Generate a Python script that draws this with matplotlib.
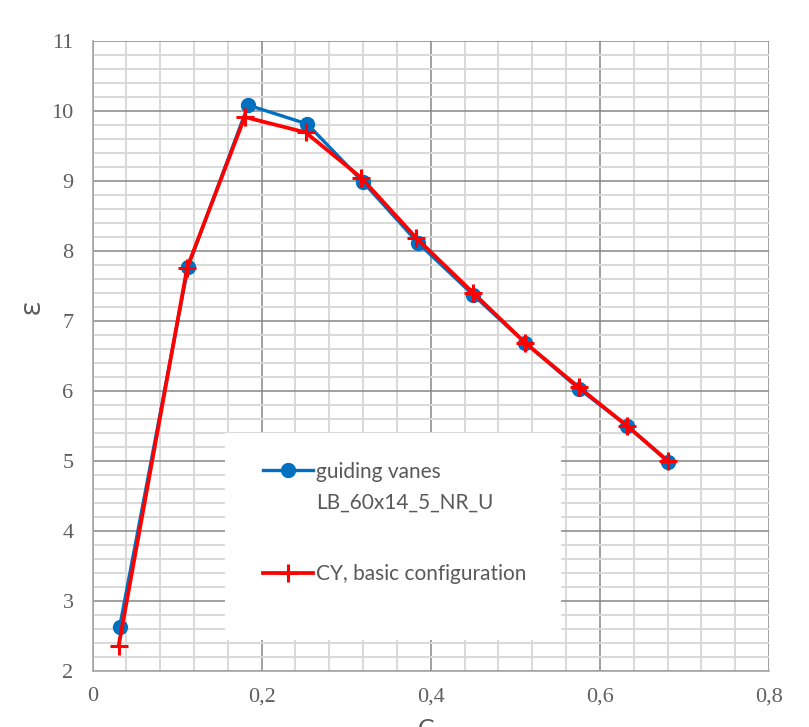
import matplotlib
matplotlib.use("Agg")
import matplotlib.pyplot as plt
from matplotlib.ticker import MultipleLocator, FixedLocator
from matplotlib.patches import Rectangle

# data
cy_vanes = [0.032, 0.113, 0.184, 0.254, 0.320, 0.385, 0.450, 0.512, 0.575, 0.632, 0.681]
eps_vanes = [2.62, 7.77, 10.08, 9.81, 8.98, 8.11, 7.37, 6.68, 6.03, 5.50, 4.98]
cy_basic = [0.031, 0.112, 0.180, 0.252, 0.318, 0.383, 0.450, 0.512, 0.575, 0.632, 0.681]
eps_basic = [2.36, 7.76, 9.91, 9.69, 9.04, 8.18, 7.40, 6.68, 6.05, 5.50, 4.99]
label_vanes = "guiding vanes\nLB_60x14_5_NR_U"
label_basic = "CY, basic configuration"
x_ticks = [0, 0.2, 0.4, 0.6, 0.8]
x_ticklabels = ["0", "0,2", "0,4", "0,6", "0,8"]
y_ticks = [2, 3, 4, 5, 6, 7, 8, 9, 10, 11]

fig = plt.figure(figsize=(8.09, 7.27), dpi=100)
ax = fig.add_axes([92.5 / 809, 1 - 670.7 / 727, 676.5 / 809, 630 / 727])

ax.set_xlim(0, 0.8)
ax.set_ylim(2, 11)
ax.xaxis.set_major_locator(FixedLocator(x_ticks))
ax.set_xticklabels(x_ticklabels)
ax.yaxis.set_major_locator(FixedLocator(y_ticks))
ax.set_yticklabels([str(v) for v in y_ticks])
ax.xaxis.set_minor_locator(MultipleLocator(0.04))
ax.yaxis.set_minor_locator(MultipleLocator(0.2))

ax.grid(which="minor", color="#d9d9d9", linewidth=1.4, zorder=0)
ax.grid(which="major", color="#868686", linewidth=1.1, zorder=0.5)
ax.set_axisbelow(True)
ax.tick_params(which="both", length=0)
ax.tick_params(axis="x", pad=12)
ax.tick_params(axis="y", pad=13.7)
for lab in ax.get_xticklabels() + ax.get_yticklabels():
    lab.set_fontfamily("Liberation Serif")
    lab.set_fontsize(16)
    lab.set_color("#5f5f5f")
for s in ["top", "right"]:
    ax.spines[s].set_visible(False)
for s in ["left", "bottom"]:
    ax.spines[s].set_color("#a6a6a6")
    ax.spines[s].set_linewidth(1.2)

ax.plot(cy_vanes, eps_vanes, color="#0070c0", linewidth=2.4, marker="o",
        markersize=10, label=label_vanes, zorder=3)
ax.plot(cy_basic, eps_basic, color="#ff0000", linewidth=2.7, marker="+",
        markersize=13, markeredgewidth=2.2, label=label_basic, zorder=4)

# white legend area
ax.add_patch(Rectangle(((225 - 92.5) / 676.5, (670.7 - 640) / 630),
                       (561 - 225) / 676.5, (640 - 433) / 630,
                       transform=ax.transAxes, facecolor="white",
                       edgecolor="none", zorder=2))
leg = ax.legend(loc="upper left", bbox_to_anchor=((263 - 92.5) / 676.5, (670.7 - 462) / 630),
                frameon=False, prop={"family": "Lato", "size": 15},
                handlelength=2.4, handleheight=1.0, handletextpad=0.15,
                labelspacing=2.5, borderpad=0, borderaxespad=0)
leg.set_zorder(5)
for t in leg.get_texts():
    t.set_color("#595959")
    t.set_linespacing(1.65)
# align each handle with the first line of its label
for col in leg._legend_handle_box.get_children():
    for item in col.get_children():
        item.align = "top"

ax.set_ylabel("ε", fontsize=21, color="#595959", family=["Open Sans", "DejaVu Sans"])
ax.yaxis.set_label_coords((46.7 - 92.5) / 676.5, (670.7 - 306.7) / 630)
ax.set_xlabel(r"C$_\mathregular{y}$", fontsize=18, color="#595959", family="Lato")
ax.xaxis.set_label_coords(0.5, (670.7 - 718) / 630)

fig.savefig("out.png", dpi=100)
